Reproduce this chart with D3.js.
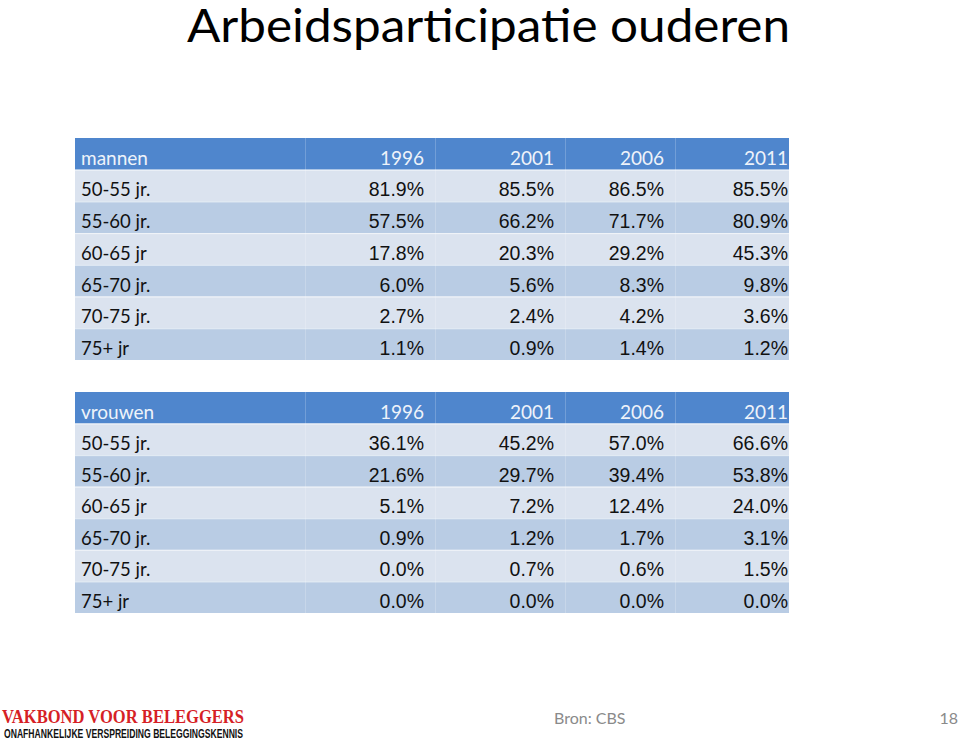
<!DOCTYPE html>
<html>
<head>
<meta charset="utf-8">
<script src="https://cdn.jsdelivr.net/npm/d3@7"></script>
<style>
  body { margin: 0; background: #fff; }
</style>
</head>
<body>
<div id="chart"></div>
<script>
// data
const years = ["1996", "2001", "2006", "2011"];
const ageGroups = ["50-55 jr.", "55-60 jr.", "60-65 jr", "65-70 jr.", "70-75 jr.", "75+ jr"];
const mannen = [
  [81.9, 85.5, 86.5, 85.5],
  [57.5, 66.2, 71.7, 80.9],
  [17.8, 20.3, 29.2, 45.3],
  [6.0, 5.6, 8.3, 9.8],
  [2.7, 2.4, 4.2, 3.6],
  [1.1, 0.9, 1.4, 1.2]
];
const vrouwen = [
  [36.1, 45.2, 57.0, 66.6],
  [21.6, 29.7, 39.4, 53.8],
  [5.1, 7.2, 12.4, 24.0],
  [0.9, 1.2, 1.7, 3.1],
  [0.0, 0.7, 0.6, 1.5],
  [0.0, 0.0, 0.0, 0.0]
];

const width = 960, height = 743;
const svg = d3.select("#chart")
    .append("svg")
    .attr("width", width)
    .attr("height", height);

const fmt = d3.format(".1f");
const labelFont = "Lato, 'Open Sans', sans-serif";
const numFont = "'Liberation Sans', Arial, sans-serif";

// title
svg.append("text")
    .attr("x", 187)
    .attr("y", 42)
    .attr("font-family", labelFont)
    .attr("font-size", "46px")
    .attr("textLength", 603)
    .attr("lengthAdjust", "spacingAndGlyphs")
    .attr("fill", "#000")
    .text("Arbeidsparticipatie ouderen");

// column edges
const columns = ["label"].concat(years);
const colLeft = d3.scaleOrdinal().domain(columns).range([75, 305, 435, 565, 675]);
const colRight = d3.scaleOrdinal().domain(columns).range([305, 435, 565, 675, 789]);
// right edge of the text in each year column
const textRight = d3.scaleOrdinal().domain(years).range([424, 554, 664, 788]);

function drawTable(title, values, top, bottom) {
    const rows = ["header"].concat(ageGroups);
    const yScale = d3.scaleBand().domain(rows).range([top, bottom]);
    const g = svg.append("g");

    // row backgrounds
    g.selectAll("rect.row")
        .data(rows)
        .join("rect")
        .attr("class", "row")
        .attr("x", colLeft("label"))
        .attr("y", d => yScale(d))
        .attr("width", colRight("2011") - colLeft("label"))
        .attr("height", yScale.bandwidth())
        .attr("fill", (d, i) => i === 0 ? "#4f86cd" : (i % 2 === 1 ? "#dbe3ef" : "#b9cce4"));

    // faint separators
    g.selectAll("line.rowsep")
        .data(rows.slice(1))
        .join("line")
        .attr("class", "rowsep")
        .attr("x1", colLeft("label"))
        .attr("x2", colRight("2011"))
        .attr("y1", d => yScale(d) + 0.5)
        .attr("y2", d => yScale(d) + 0.5)
        .attr("stroke", "#fff")
        .attr("stroke-opacity", 0.6);
    g.selectAll("line.colsep")
        .data(years)
        .join("line")
        .attr("class", "colsep")
        .attr("x1", d => colLeft(d) + 0.5)
        .attr("x2", d => colLeft(d) + 0.5)
        .attr("y1", top)
        .attr("y2", bottom)
        .attr("stroke", "#fff")
        .attr("stroke-opacity", 0.2);

    const base = d => yScale(d) + yScale.bandwidth() - 5;

    // header
    g.append("text")
        .attr("x", colLeft("label") + 6)
        .attr("y", base("header"))
        .attr("font-family", labelFont)
        .attr("font-size", "19px")
        .attr("fill", "#eef3fa")
        .text(title);
    g.selectAll("text.year")
        .data(years)
        .join("text")
        .attr("class", "year")
        .attr("x", d => textRight(d))
        .attr("y", base("header"))
        .attr("text-anchor", "end")
        .attr("font-family", labelFont)
        .attr("font-size", "19px")
        .attr("fill", "#eef3fa")
        .text(d => d);

    // row labels
    g.selectAll("text.age")
        .data(ageGroups)
        .join("text")
        .attr("class", "age")
        .attr("x", colLeft("label") + 6)
        .attr("y", d => base(d))
        .attr("font-family", labelFont)
        .attr("font-size", "18.5px")
        .attr("fill", "#111")
        .text(d => d);

    // values
    const cells = [];
    ageGroups.forEach((a, i) => years.forEach((y, j) => cells.push({age: a, year: y, value: values[i][j]})));
    g.selectAll("text.val")
        .data(cells)
        .join("text")
        .attr("class", "val")
        .attr("x", d => textRight(d.year))
        .attr("y", d => base(d.age))
        .attr("text-anchor", "end")
        .attr("font-family", numFont)
        .attr("font-size", "19.5px")
        .attr("fill", "#111")
        .text(d => fmt(d.value) + "%");
}

drawTable("mannen", mannen, 138, 360);
drawTable("vrouwen", vrouwen, 392, 613);

// footer
svg.append("text")
    .attr("x", 554)
    .attr("y", 724)
    .attr("font-family", labelFont)
    .attr("font-size", "16px")
    .attr("fill", "#8a8a8a")
    .text("Bron: CBS");
svg.append("text")
    .attr("x", 958)
    .attr("y", 724)
    .attr("text-anchor", "end")
    .attr("font-family", labelFont)
    .attr("font-size", "16px")
    .attr("fill", "#8a8a8a")
    .text("18");

// logo
svg.append("text")
    .attr("x", 2)
    .attr("y", 723)
    .attr("font-family", "'Liberation Serif', 'DejaVu Serif', serif")
    .attr("font-weight", "bold")
    .attr("font-size", "19px")
    .attr("textLength", 242)
    .attr("lengthAdjust", "spacingAndGlyphs")
    .attr("fill", "#d61f26")
    .text("VAKBOND VOOR BELEGGERS");
svg.append("text")
    .attr("x", 4)
    .attr("y", 738)
    .attr("font-family", "'Liberation Sans', Arial, sans-serif")
    .attr("font-weight", "bold")
    .attr("font-size", "12.5px")
    .attr("textLength", 239)
    .attr("lengthAdjust", "spacingAndGlyphs")
    .attr("fill", "#111")
    .text("ONAFHANKELIJKE VERSPREIDING BELEGGINGSKENNIS");
</script>
</body>
</html>
